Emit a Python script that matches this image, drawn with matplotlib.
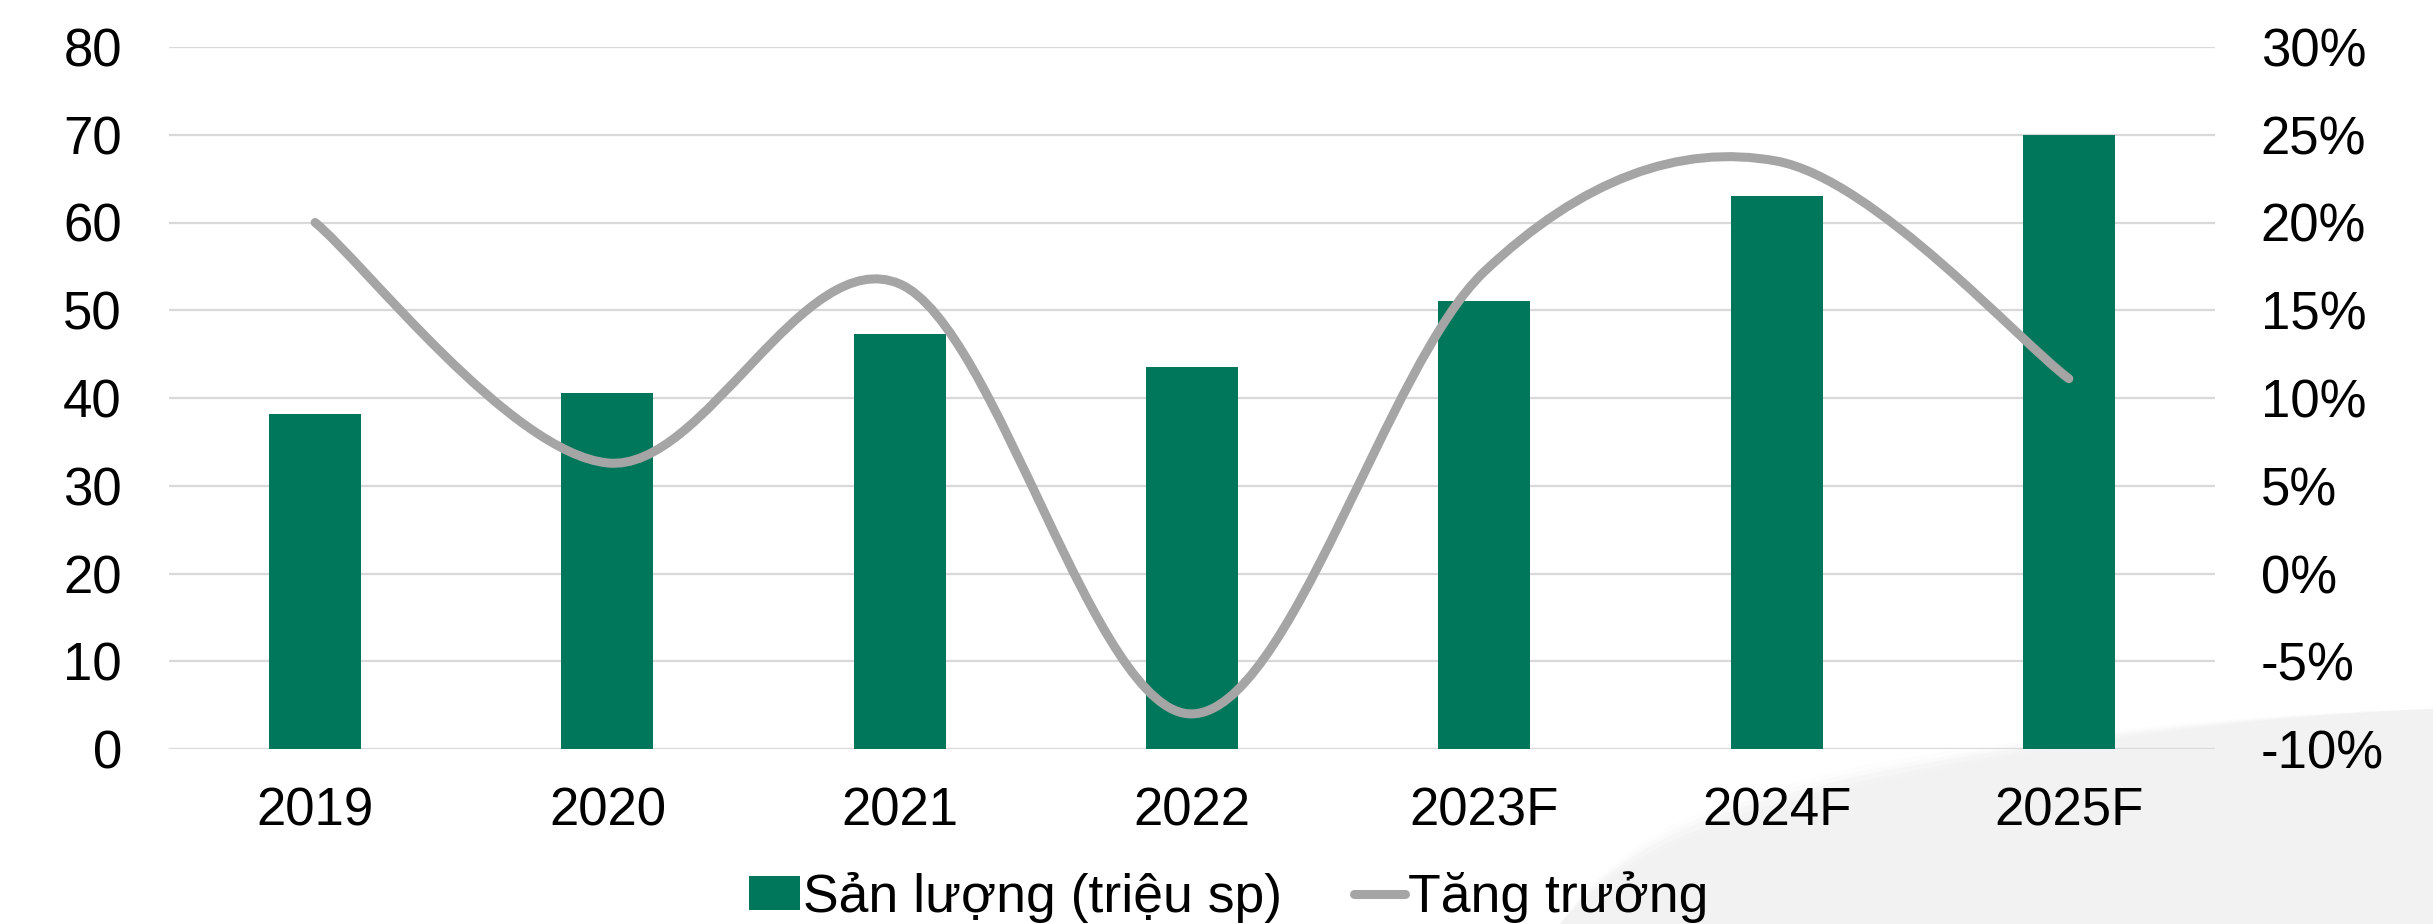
import matplotlib
matplotlib.use("Agg")
import matplotlib.pyplot as plt
import numpy as np
from matplotlib.path import Path
from matplotlib.patches import PathPatch, Patch
from matplotlib.lines import Line2D
from matplotlib.ticker import FuncFormatter

plt.rcParams['font.family'] = ['Liberation Sans', 'DejaVu Sans']

# Output volume and growth by year
years = ['2019', '2020', '2021', '2022', '2023F', '2024F', '2025F']
san_luong = [38.2, 40.6, 47.3, 43.5, 51.0, 63.0, 70.0]   # triệu sp
tang_truong = [20.0, 6.3, 16.5, -8.0, 17.2, 23.5, 11.1]  # %

bar_color = '#00775A'
line_color = '#A5A5A5'
grid_color = '#D9D9D9'
fs = 38

W, H = 2433, 924
fig = plt.figure(figsize=(W / 100, H / 100), dpi=100)
fig.patch.set_facecolor('white')

# light grey slide background sweeping in at the bottom right, soft upper edge
bg_verts = [(1560, 924), (1620, 850), (1700, 815), (1866, 777),
            (2000, 750), (2200, 718), (2433, 709), (2433, 924), (1560, 924)]
bg_codes = [Path.MOVETO, Path.CURVE4, Path.CURVE4, Path.CURVE4,
            Path.CURVE4, Path.CURVE4, Path.CURVE4, Path.LINETO, Path.CLOSEPOLY]
for dy, a in [(-14, 0.15), (-8, 0.25), (-3, 0.4), (4, 0.6), (10, 1.0)]:
    v = []
    for px, py in bg_verts:
        # blur only the left part of the edge, keep the right part crisp
        fade = max(0.0, min(1.0, (2300 - px) / 500))
        yy = py + dy * fade if py < 924 else py
        v.append((px / W, 1 - yy / H))
    fig.patches.append(PathPatch(Path(v, bg_codes), transform=fig.transFigure,
                                 facecolor='#F2F2F2', edgecolor='none',
                                 alpha=a, zorder=-5))

ax = fig.add_axes([169 / W, 1 - 749 / H, (2215 - 169) / W, (749 - 47) / H])
ax.set_facecolor('none')
x = np.arange(len(years))
ax.bar(x, san_luong, width=0.315, color=bar_color, zorder=2)
ax.set_xlim(-0.5, len(years) - 0.5)
ax.set_ylim(0, 80)
ax.set_yticks(range(0, 81, 10))
ax.set_xticks(x)
ax.set_xticklabels(years)
ax.yaxis.grid(True, color=grid_color, linewidth=1.6, zorder=0)
ax.set_axisbelow(True)
for s in ax.spines.values():
    s.set_visible(False)
ax.tick_params(axis='both', length=0, labelsize=fs)
ax.tick_params(axis='y', pad=34)
ax.tick_params(axis='x', pad=27)

ax2 = ax.twinx()
ax2.set_ylim(-10, 30)
ax2.set_yticks(range(-10, 31, 5))
ax2.yaxis.set_major_formatter(FuncFormatter(lambda v, p: f'{int(v)}%'))
for s in ax2.spines.values():
    s.set_visible(False)
ax2.tick_params(axis='y', length=0, labelsize=fs, pad=33)

# smoothed growth line (Catmull-Rom style Bezier through each point)
pts = np.column_stack([x, tang_truong]).astype(float)
verts = [tuple(pts[0])]
codes = [Path.MOVETO]
n = len(pts)
for i in range(n - 1):
    p0 = pts[max(i - 1, 0)]
    p1 = pts[i]
    p2 = pts[i + 1]
    p3 = pts[min(i + 2, n - 1)]
    c1 = p1 + (p2 - p0) / 6
    c2 = p2 - (p3 - p1) / 6
    verts += [tuple(c1), tuple(c2), tuple(p2)]
    codes += [Path.CURVE4] * 3
ax2.add_patch(PathPatch(Path(verts, codes), facecolor='none', edgecolor=line_color,
                        linewidth=6.5, capstyle='round', joinstyle='round', zorder=3))

handles = [Patch(facecolor=bar_color, edgecolor='none'),
           Line2D([], [], color=line_color, linewidth=6.5, solid_capstyle='round')]
labels = ['Sản lượng (triệu sp)', 'Tăng trưởng']
fig.legend(handles, labels, loc='center', bbox_to_anchor=(0.505, 1 - 897 / H),
           ncol=2, frameon=False, fontsize=38.5, handlelength=0.95,
           handleheight=0.6, handletextpad=0.05, columnspacing=1.35,
           borderaxespad=0, borderpad=0)

fig.savefig('out.png', dpi=100, facecolor='white')
